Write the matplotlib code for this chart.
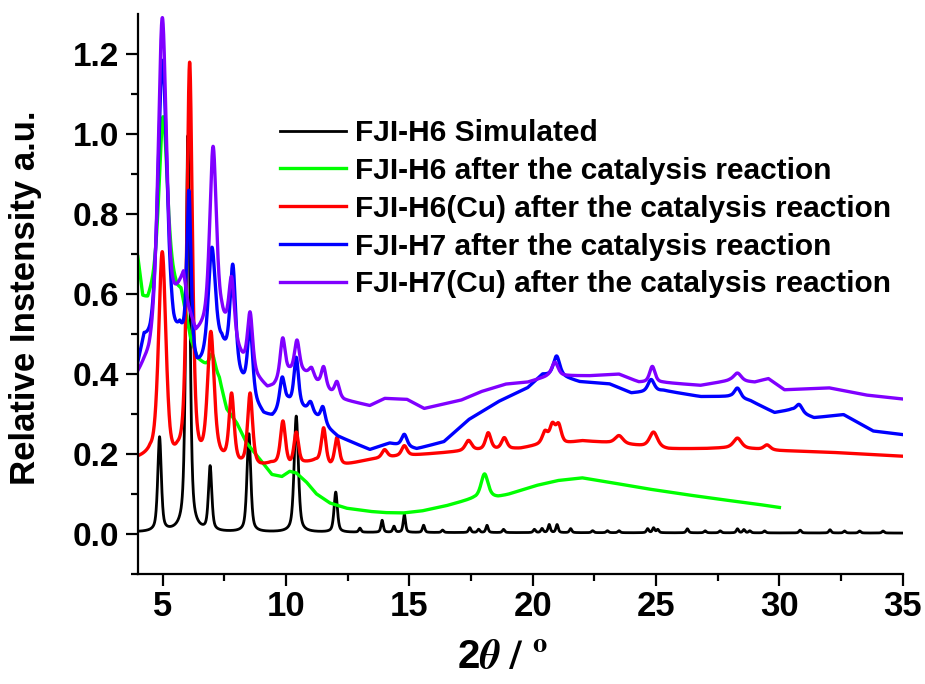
import numpy as np
import matplotlib.pyplot as plt

# police type Arial en gras pour tout le graphique
plt.rcParams['font.family'] = ['Liberation Sans', 'DejaVu Sans']
plt.rcParams['font.weight'] = 'bold'
plt.rcParams['mathtext.fontset'] = 'stix'

# légendes des cinq diffractogrammes
noms = ['FJI-H6 Simulated',
        'FJI-H6 after the catalysis reaction',
        'FJI-H6(Cu) after the catalysis reaction',
        'FJI-H7 after the catalysis reaction',
        'FJI-H7(Cu) after the catalysis reaction']
couleurs = ['#000000', '#00ff00', '#ff0000', '#0000ff', '#8000ff']

# FJI-H6 simulé : fond + liste des pics (2theta, hauteur, demi-largeur)
simFondX = [4.0, 35.0]
simFondY = [0.004, 0.002]
simPos = [4.88, 6.03, 6.93, 8.5, 10.42, 12.02, 13.0, 13.9, 14.38, 14.8, 15.58, 16.35,
          17.45, 17.81, 18.15, 18.82, 20.07, 20.38, 20.67, 20.99, 21.54, 22.43, 23.03,
          23.5, 24.66, 24.9, 25.07, 26.27, 26.99, 27.6, 28.3, 28.56, 28.8, 29.4, 30.84,
          32.05, 32.64, 33.25, 34.2]
simHaut = [0.235, 0.99, 0.16, 0.245, 0.29, 0.1, 0.01, 0.03, 0.015, 0.045, 0.018, 0.006,
           0.012, 0.008, 0.018, 0.008, 0.008, 0.01, 0.02, 0.02, 0.01, 0.005, 0.005,
           0.005, 0.01, 0.012, 0.008, 0.01, 0.005, 0.005, 0.01, 0.008, 0.005, 0.005, 0.007,
           0.008, 0.005, 0.005, 0.005]
simLarg = [0.085, 0.095, 0.08, 0.09, 0.1, 0.08] + [0.055] * 33

# FJI-H6 après catalyse
vertFondX = [4.0, 4.2, 4.4, 4.6, 5.0, 5.6, 5.75, 5.95, 6.15, 6.42, 6.75, 7.3, 7.6, 8.0,
             8.4, 8.96, 9.43, 9.84, 10.15, 10.42, 10.82, 11.23, 11.78, 12.45, 13.4, 14.0,
             14.75, 15.5, 16.5, 17.6, 18.6, 19.0, 20.1, 21.0, 22.0, 23.0, 24.6, 26.0,
             27.5, 29.0, 30.0]
vertFondY = [0.685, 0.585, 0.575, 0.6, 0.66, 0.6, 0.6, 0.54, 0.48, 0.435, 0.418, 0.385,
             0.31, 0.277, 0.227, 0.185, 0.148, 0.143, 0.156, 0.152, 0.13, 0.1, 0.077,
             0.064, 0.056, 0.053, 0.052, 0.057, 0.07, 0.088, 0.092, 0.098, 0.12, 0.133,
             0.14, 0.13, 0.113, 0.1, 0.087, 0.075, 0.066]
vertPos = [5.03, 7.02, 18.05]
vertHaut = [0.385, 0.045, 0.06]
vertLarg = [0.2, 0.14, 0.17]

# FJI-H6(Cu) après catalyse
rougeFondX = [4.0, 4.5, 4.8, 5.3, 5.6, 6.5, 7.3, 8.1, 8.95, 9.4, 10.15, 10.8, 11.2, 11.8,
              12.45, 13.4, 14.5, 15.5, 16.5, 17.5, 18.5, 19.5, 20.3, 21.3, 22.0, 23.0,
              24.0, 25.5, 27.0, 28.0, 29.0, 30.0, 32.0, 35.0]
rougeFondY = [0.183, 0.185, 0.16, 0.15, 0.17, 0.16, 0.175, 0.165, 0.165, 0.172, 0.165,
              0.175, 0.18, 0.165, 0.172, 0.185, 0.193, 0.198, 0.203, 0.208, 0.21, 0.213,
              0.222, 0.225, 0.232, 0.228, 0.222, 0.212, 0.213, 0.215, 0.212, 0.208,
              0.204, 0.194]
rougePos = [4.99, 6.1, 6.96, 7.8, 8.55, 9.88, 10.42, 11.53, 12.07, 14.0, 14.8, 17.4,
            18.2, 18.85, 20.5, 20.8, 21.05, 23.5, 24.9, 28.3, 29.5]
rougeHaut = [0.54, 1.0, 0.32, 0.17, 0.18, 0.11, 0.08, 0.09, 0.07, 0.02, 0.025, 0.025,
             0.042, 0.028, 0.03, 0.045, 0.045, 0.02, 0.038, 0.025, 0.012]
rougeLarg = [0.18, 0.13, 0.16, 0.12, 0.12, 0.12, 0.11, 0.11, 0.11, 0.13, 0.13, 0.15,
             0.13, 0.13, 0.13, 0.13, 0.13, 0.19, 0.19, 0.19, 0.15]

# FJI-H7 après catalyse
bleuFondX = [4.0, 4.25, 4.5, 5.45, 5.7, 5.95, 6.4, 6.6, 7.4, 8.15, 8.85, 9.1, 9.45, 10.1,
             10.9, 11.25, 11.8, 12.1, 13.4, 14.2, 15.3, 16.4, 17.4, 18.6, 19.8, 20.4,
             21.2, 21.9, 23.1, 24.0, 25.3, 26.8, 28.0, 28.8, 29.8, 30.5, 31.4, 32.6,
             33.8, 35.0]
bleuFondY = [0.41, 0.47, 0.45, 0.45, 0.48, 0.45, 0.4, 0.41, 0.46, 0.38, 0.315, 0.295,
             0.29, 0.325, 0.305, 0.29, 0.258, 0.243, 0.21, 0.226, 0.212, 0.23, 0.285,
             0.33, 0.365, 0.398, 0.393, 0.38, 0.375, 0.352, 0.358, 0.343, 0.343, 0.333,
             0.303, 0.31, 0.29, 0.298, 0.257, 0.248]
bleuPos = [5.0, 6.07, 7.0, 7.85, 8.55, 9.85, 10.42, 11.0, 11.5, 14.8, 20.97, 24.8, 28.3,
           30.8]
bleuHaut = [0.73, 0.4, 0.27, 0.25, 0.17, 0.075, 0.12, 0.025, 0.04, 0.03, 0.05, 0.03,
            0.025, 0.02]
bleuLarg = [0.22, 0.1, 0.17, 0.13, 0.12, 0.12, 0.11, 0.11, 0.11, 0.13, 0.15, 0.15, 0.15,
            0.15]

# FJI-H7(Cu) après catalyse
violetFondX = [4.0, 4.25, 4.45, 5.4, 5.85, 6.05, 6.35, 6.6, 7.4, 8.25, 8.85, 9.25, 9.5,
               10.15, 10.7, 11.05, 11.25, 11.8, 12.35, 13.4, 14.0, 14.9, 15.6, 17.1,
               17.9, 18.9, 19.8, 20.6, 21.1, 22.3, 23.5, 24.3, 25.3, 26.8, 28.0, 29.0,
               29.55, 30.2, 32.0, 33.5, 35.0]
violetFondY = [0.39, 0.41, 0.42, 0.54, 0.63, 0.55, 0.49, 0.5, 0.52, 0.43, 0.385, 0.362,
               0.366, 0.4, 0.4, 0.396, 0.378, 0.353, 0.334, 0.32, 0.338, 0.336, 0.313,
               0.334, 0.355, 0.374, 0.379, 0.393, 0.395, 0.395, 0.399, 0.379, 0.378,
               0.371, 0.383, 0.379, 0.388, 0.36, 0.365, 0.347, 0.337]
violetPos = [4.99, 7.05, 7.8, 8.55, 9.87, 10.45, 11.03, 11.53, 12.07, 20.9, 24.85, 28.3]
violetHaut = [0.8, 0.45, 0.15, 0.14, 0.1, 0.08, 0.015, 0.05, 0.035, 0.035, 0.04, 0.02]
violetLarg = [0.2, 0.16, 0.13, 0.12, 0.12, 0.12, 0.11, 0.11, 0.11, 0.15, 0.13, 0.18]


# profil d'un diffractogramme : fond + pics pseudo-Voigt
def profil(x, fondX, fondY, pos, haut, larg):
    y = np.interp(x, fondX, fondY)
    for p, h, w in zip(pos, haut, larg):
        d = (x - p) / w
        y = y + h * (0.55 / (1 + d ** 2) + 0.45 * np.exp(-np.log(2) * d ** 2))
    return y


x = np.linspace(4, 35, 6201)
xVert = np.linspace(4, 30, 5201)

courbes = [
    (x, profil(x, simFondX, simFondY, simPos, simHaut, simLarg)),
    (xVert, profil(xVert, vertFondX, vertFondY, vertPos, vertHaut, vertLarg)),
    (x, profil(x, rougeFondX, rougeFondY, rougePos, rougeHaut, rougeLarg)),
    (x, profil(x, bleuFondX, bleuFondY, bleuPos, bleuHaut, bleuLarg)),
    (x, profil(x, violetFondX, violetFondY, violetPos, violetHaut, violetLarg)),
]
epaisseurs = [2.0, 2.4, 2.4, 2.4, 2.4]

fig = plt.figure(figsize=(9.25, 6.84), dpi=100)
ax = fig.add_axes([0.149, 0.161, 0.827, 0.819])

for (cx, cy), nom, coul, ep in zip(courbes, noms, couleurs, epaisseurs):
    ax.plot(cx, cy, color=coul, lw=ep, label=nom)

ax.set_xlim(4, 35)
ax.set_ylim(-0.1, 1.3)
ax.set_xticks([5, 10, 15, 20, 25, 30, 35])
ax.set_xticks(np.arange(7.5, 35, 5), minor=True)
ax.set_yticks(np.arange(0, 1.21, 0.2))
ax.set_yticks(np.arange(-0.1, 1.3, 0.2), minor=True)
ax.yaxis.set_major_formatter(plt.FormatStrFormatter('%.1f'))

ax.spines['top'].set_visible(False)
ax.spines['right'].set_visible(False)
for s in ['left', 'bottom']:
    ax.spines[s].set_linewidth(1.6)
ax.tick_params(which='major', direction='out', length=8.5, width=1.6)
ax.tick_params(which='minor', direction='out', length=5, width=1.6)
ax.tick_params(axis='x', labelsize=25, pad=3)
ax.tick_params(axis='y', labelsize=24, pad=5)

ax.set_ylabel('Relative Instensity a.u.', fontsize=25, fontweight='bold')
ax.yaxis.set_label_coords(-0.125, 0.493)
ax.set_xlabel(r'2$\theta\ /\ ^{\rm o}$', fontsize=29, fontweight='bold')
ax.xaxis.set_label_coords(0.477, -0.115)

ax.legend(loc='upper left', bbox_to_anchor=(0.186, 0.812), frameon=False, fontsize=21.5,
          handlelength=2.2, handletextpad=0.3, labelspacing=0.33, borderpad=0,
          borderaxespad=0)

fig.savefig('out.png', dpi=100)
